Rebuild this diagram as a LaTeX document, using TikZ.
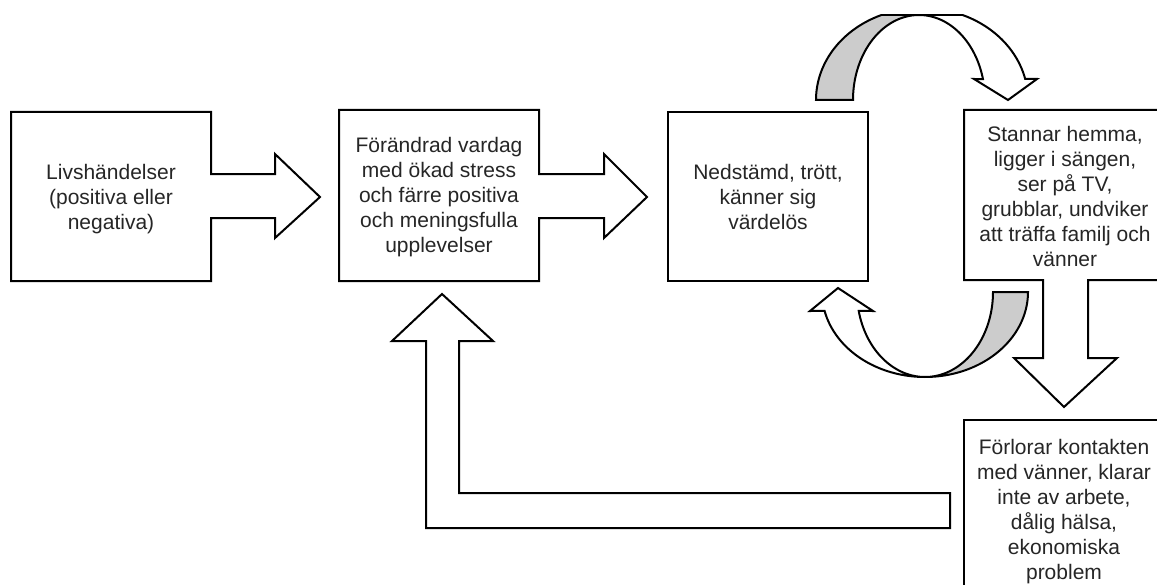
\documentclass[tikz,border=0pt]{standalone}
\usepackage{fontspec}
\setmainfont{Liberation Sans}
\definecolor{bandgray}{HTML}{CCCCCC}
\begin{document}
\begin{tikzpicture}[x=0.75pt,y=-0.75pt,
  shape line/.style={draw=black,line width=1.5pt,line join=miter,fill=white},
  band/.style={fill=bandgray},
  lbl/.style={align=center,inner sep=0pt,text=black!85,font=\fontsize{15.75}{18.75}\selectfont}]
\useasboundingbox (0,0) rectangle (1157,585);
\clip (0,0) rectangle (1157,585);

% Box 1 with right arrow
\draw[shape line] (11,112) -- (211,112) -- (211,174) -- (275,174) -- (275,154) -- (320,197)
  -- (275,238) -- (275,218) -- (211,218) -- (211,281) -- (11,281) -- cycle;
% Box 2 with right arrow
\draw[shape line] (339,110) -- (539,110) -- (539,174) -- (604,174) -- (604,154) -- (647,197)
  -- (604,238) -- (604,218) -- (539,218) -- (539,281) -- (339,281) -- cycle;
% Box 3
\draw[shape line] (668,112) rectangle (868,281);
% Box 4 with down arrow
\draw[shape line] (964,110) -- (1166,110) -- (1166,280) -- (1088,280) -- (1088,358) -- (1117,358)
  -- (1064,407) -- (1014,358) -- (1043,358) -- (1043,280) -- (964,280) -- cycle;
% Box 5
\draw[shape line] (964,420) rectangle (1166,612);
% L-shaped return arrow
\draw[shape line] (442,294) -- (493,341) -- (459,341) -- (459,493) -- (950,493) -- (950,528)
  -- (426,528) -- (426,341) -- (392,341) -- cycle;

% Top curved arrow (clipped at the top)
\begin{scope}
  \clip (0,15) rectangle (1157,585);
  \fill[band] plot[domain=180:270,samples=50,variable=\t] ({922+106*cos(\t)},{100+92*sin(\t)})
    -- plot[domain=270:180,samples=50,variable=\t] ({919+66*cos(\t)},{100+85*sin(\t)}) -- cycle;
  \draw[line width=1.5pt,line join=miter]
    plot[domain=180:346.8,samples=90,variable=\t] ({922+106*cos(\t)},{100+92*sin(\t)})
    -- (1037,79) -- (1008,100) -- (974,79)
    -- plot[domain=345.7:180,samples=90,variable=\t] ({919+66*cos(\t)},{100+85*sin(\t)})
    -- cycle;
\end{scope}
\draw[line width=1.5pt] (881,15) -- (963,15);

% Bottom curved arrow
\fill[band] plot[domain=0:90,samples=50,variable=\t] ({925+103*cos(\t)},{292+85*sin(\t)})
  -- plot[domain=90:0,samples=50,variable=\t] ({925+68*cos(\t)},{292+85*sin(\t)}) -- cycle;
\draw[line width=1.5pt,line join=miter]
  plot[domain=0:167.1,samples=90,variable=\t] ({925+103*cos(\t)},{292+85*sin(\t)})
  -- (810,311) -- (838,288) -- (873,311)
  -- plot[domain=167.1:0,samples=90,variable=\t] ({925+68*cos(\t)},{292+85*sin(\t)})
  -- cycle;

% Texts
\node[lbl] (t1) at (111,199) {Livshändelser\\(positiva eller\\negativa)};
\node[lbl] (t2) at (439,197) {Förändrad vardag\\med ökad stress\\och färre positiva\\och meningsfulla\\upplevelser};
\node[lbl] (t3) at (768,197) {Nedstämd, trött,\\känner sig\\värdelös};
\node[lbl] (t4) at (1065,196) {Stannar hemma,\\ligger i sängen,\\ser på TV,\\grubblar, undviker\\att träffa familj och\\vänner};
\node[lbl] (t5) at (1064,512) {Förlorar kontakten\\med vänner, klarar\\inte av arbete,\\dålig hälsa,\\ekonomiska\\problem};
\end{tikzpicture}
\end{document}
